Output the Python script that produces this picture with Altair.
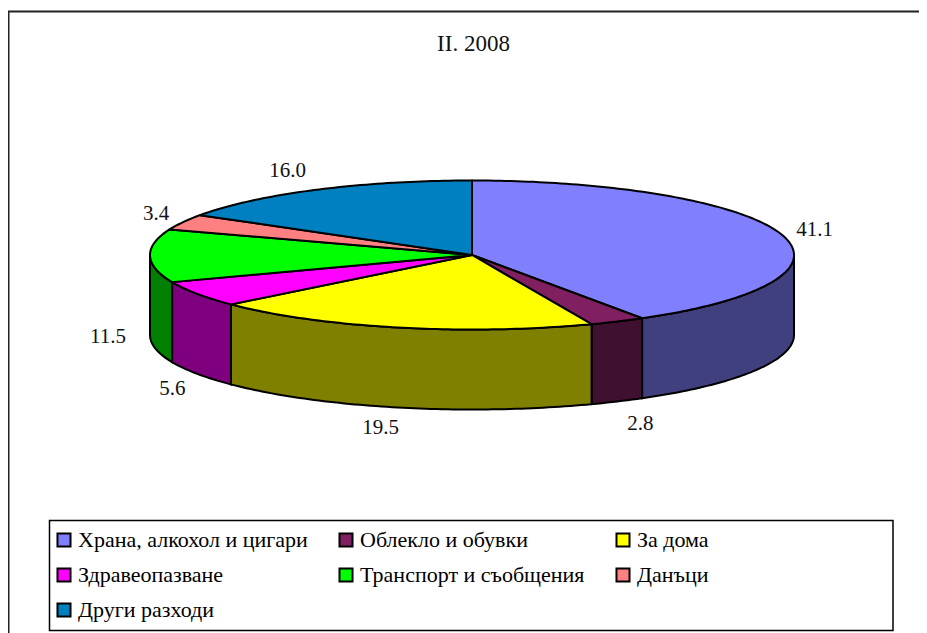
import math
import altair as alt

categories = ["Храна, алкохол и цигари", "Облекло и обувки", "За дома", "Здравеопазване",
              "Транспорт и съобщения", "Данъци", "\u00a0Други разходи"]
values = [41.1, 2.8, 19.5, 5.6, 11.5, 3.4, 16.0]
colors = ["#8080FF", "#802060", "#FFFF00", "#FF00FF", "#00FF00", "#FF8080", "#0080C0"]
label_shift = [(33, -5), (23, 103), (-17, 101), (-25, 95), (-42, 81), (-27, -8), (-29, -19)]
chart_title = "II. 2008"

FONT = "Liberation Serif"
W, H = 911, 625
CX, CY, RX, RY, DEPTH = 464.0, 247.0, 322.0, 74.5, 80.0


def rim(deg, drop=0.0):
    a = math.radians(deg)
    return [CX + RX * math.sin(a), CY - RY * math.cos(a) + drop]


def arc(a0, a1):
    n = max(2, int(abs(a1 - a0)) + 1)
    return [a0 + (a1 - a0) * i / (n - 1) for i in range(n)]


def feature(name, geom_type, coords, fill=None):
    return {"type": "Feature", "properties": {"name": name, "fill": fill},
            "geometry": {"type": geom_type, "coordinates": coords}}


def darken(hex_color):
    rgb = [int(hex_color[i:i + 2], 16) // 2 for i in (1, 3, 5)]
    return "#%02x%02x%02x" % tuple(rgb)


total = sum(values)
tops, walls, labels = [], [], []
start = 0.0
for name, value, color, shift in zip(categories, values, colors, label_shift):
    end = start + 360.0 * value / total
    ring = [[CX, CY]] + [rim(t) for t in arc(start, end)] + [[CX, CY]]
    tops.append(feature(name, "Polygon", [ring]))
    lo, hi = max(start, 90.0), min(end, 270.0)
    if hi > lo:
        angles = arc(lo, hi)
        wall = [rim(t) for t in angles] + [rim(t, DEPTH) for t in reversed(angles)]
        wall.append(wall[0])
        walls.append(feature(name, "Polygon", [wall], darken(color)))
    mx, my = rim((start + end) / 2)
    labels.append({"text": f"{value:.1f}", "lon": mx + shift[0], "lat": my + shift[1]})
    start = end

frame = [feature("frame", "LineString", [[0.5, H], [0.5, 3.5], [W, 3.5]])]
legend_box = [feature("box", "Polygon", [[[41.5, 512.5], [885, 512.5], [885, 622.5], [41.5, 622.5], [41.5, 512.5]]])]

proj = alt.Projection(type="identity", scale=1, translate=[0, 0])

frame_layer = alt.Chart(alt.Data(values=frame)).mark_geoshape(
    filled=False, stroke="#222222", strokeWidth=2)
box_layer = alt.Chart(alt.Data(values=legend_box)).mark_geoshape(
    fill="white", stroke="black", strokeWidth=1.5)
wall_layer = alt.Chart(alt.Data(values=walls)).mark_geoshape(
    stroke="black", strokeWidth=2
).encode(fill=alt.Fill("properties.fill:N", scale=None, legend=None))
top_layer = alt.Chart(alt.Data(values=tops)).mark_geoshape(
    stroke="black", strokeWidth=2, strokeJoin="round"
).encode(fill=alt.Fill(
    "properties.name:N",
    scale=alt.Scale(domain=categories, range=colors),
    sort=categories,
    legend=alt.Legend(
        title=None, orient="none", legendX=45, legendY=521, columns=3,
        direction="horizontal",
        symbolType="square", symbolSize=170, symbolStrokeColor="black", symbolStrokeWidth=2,
        labelFont=FONT, labelFontSize=22, labelColor="black", labelOffset=3, labelLimit=400,
        columnPadding=27, rowPadding=13, padding=0, symbolOpacity=1),
))
text_layer = alt.Chart(alt.Data(values=labels)).mark_text(
    font=FONT, fontSize=21, color="#111111", align="center", baseline="middle"
).encode(longitude="lon:Q", latitude="lat:Q", text="text:N")

chart = alt.layer(frame_layer, box_layer, wall_layer, top_layer, text_layer, projection=proj).resolve_scale(
    fill="independent"
).properties(
    width=W, height=H, padding=0, autosize=alt.AutoSizeParams(type="none"),
    background="white",
    title=alt.TitleParams(chart_title, font=FONT, fontSize=23, fontWeight="normal", color="#111111",
                          anchor="middle", frame="group", dx=10, dy=48, offset=0),
).configure_view(stroke=None)

chart.save("out.html", embed_options={"renderer": "svg", "actions": False})
